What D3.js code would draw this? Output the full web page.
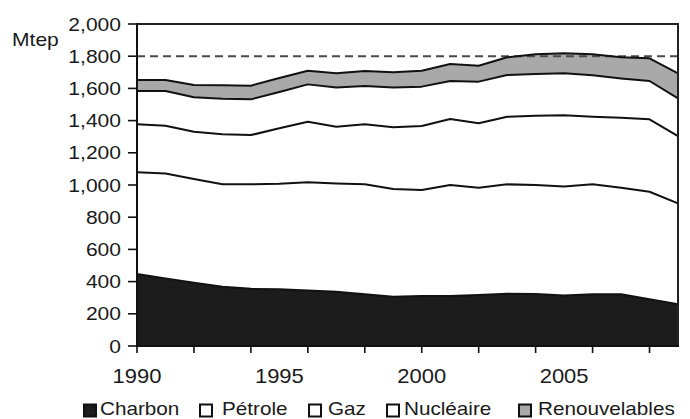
<!DOCTYPE html>
<html><head><meta charset="utf-8">
<script src="https://cdn.jsdelivr.net/npm/d3@7"></script>
<style>
html,body{margin:0;padding:0;background:#fff;}
svg{display:block;}
text{font-family:"Liberation Sans",Arial,sans-serif;fill:#1a1a1a;}
</style></head>
<body>
<svg id="chart" width="690" height="419"></svg>
<script>
const years = [1990,1991,1992,1993,1994,1995,1996,1997,1998,1999,2000,2001,2002,2003,2004,2005,2006,2007,2008,2009];
const charbon       = [447,420,393,368,355,352,345,337,321,306,311,311,317,325,323,313,321,321,290,259];
const petrole       = [632,652,644,636,649,656,672,673,683,669,658,689,666,679,677,677,683,662,668,627];
const gaz           = [298,296,294,311,306,344,376,352,373,383,397,410,400,420,430,443,420,435,450,418];
const nucleaire     = [207,216,214,221,222,226,232,243,238,247,245,236,259,259,260,261,257,244,238,234];
const renouvelables = [ 68, 68, 76, 83, 85, 87, 85, 89, 93, 95, 99,106, 99,110,122,124,131,131,141,156];
const seriesNames = ["Charbon","Pétrole","Gaz","Nucléaire","Renouvelables"];
const seriesFill  = ["#1c1c1c","#ffffff","#ffffff","#ffffff","#a9a9a9"];
const yTicks = [0,200,400,600,800,1000,1200,1400,1600,1800,2000];
const xTickYears = [1990,1992,1994,1996,1998,2000,2002,2004,2006,2008];
const xLabels = [1990,1995,2000,2005];
const referenceLine = 1800;
const unitLabel = "Mtep";

const svg = d3.select("#chart");
const L = 137, R = 678, T = 24, B = 346;
const x = d3.scaleLinear().domain([1990, 2009]).range([L, R]);
const y = d3.scaleLinear().domain([0, 2000]).range([B, T]);
const fmt = d3.format(",");

function txt(g, px, py, s, anchor, size, sx) {
  g.append("text")
    .attr("transform", `translate(${px},${py}) scale(${sx},1)`)
    .attr("text-anchor", anchor)
    .style("font-size", size + "px")
    .text(s);
}

const table = years.map((yr, i) => ({
  year: yr,
  "Charbon": charbon[i], "Pétrole": petrole[i], "Gaz": gaz[i],
  "Nucléaire": nucleaire[i], "Renouvelables": renouvelables[i]
}));
const stacked = d3.stack().keys(seriesNames)(table);

const area = d3.area().x(d => x(d.data.year)).y0(d => y(d[0])).y1(d => y(d[1]));
const line = d3.line().x(d => x(d.data.year)).y(d => y(d[1]));

svg.append("g").selectAll("path").data(stacked).join("path")
  .attr("d", area).attr("fill", (d, i) => seriesFill[i]).attr("stroke", "none");

// reference dashed line
svg.append("line")
  .attr("x1", L).attr("x2", R).attr("y1", y(referenceLine)).attr("y2", y(referenceLine))
  .attr("stroke", "#4a4a4a").attr("stroke-width", 2).attr("stroke-dasharray", "8,5");

svg.append("g").selectAll("path").data(stacked).join("path")
  .attr("d", line).attr("fill", "none").attr("stroke", "#111")
  .attr("stroke-width", 2).attr("stroke-linejoin", "round");

// frame: top and right
svg.append("path")
  .attr("d", `M${L},${T}H${R}V${B}`)
  .attr("fill", "none").attr("stroke", "#222").attr("stroke-width", 2);

// y axis
const yAxis = svg.append("g");
yAxis.append("line").attr("x1", L).attr("x2", L).attr("y1", T - 1).attr("y2", B + 1)
  .attr("stroke", "#111").attr("stroke-width", 2);
yTicks.forEach(v => {
  yAxis.append("line").attr("x1", L - 9).attr("x2", L + 1).attr("y1", y(v)).attr("y2", y(v))
    .attr("stroke", "#111").attr("stroke-width", 1.6);
  txt(yAxis, 121, y(v) + 6.5, fmt(v), "end", 18, 1.17);
});
txt(yAxis, 12, 46, unitLabel, "start", 18, 1.17);

// x axis
const xAxis = svg.append("g");
xAxis.append("line").attr("x1", L).attr("x2", R + 1).attr("y1", B).attr("y2", B)
  .attr("stroke", "#111").attr("stroke-width", 2);
xTickYears.forEach(v => {
  xAxis.append("line").attr("x1", x(v)).attr("x2", x(v)).attr("y1", B).attr("y2", B + 7)
    .attr("stroke", "#111").attr("stroke-width", 1.6);
});
xLabels.forEach(v => txt(xAxis, x(v), 383, String(v), "middle", 20, 1.1));

// legend
const legSquareX = [84, 200, 309, 387, 519];
const legTextX   = [100, 222, 328, 404, 538];
const leg = svg.append("g");
seriesNames.forEach((n, i) => {
  leg.append("rect").attr("x", legSquareX[i]).attr("y", 404.5).attr("width", 12).attr("height", 12)
    .attr("fill", seriesFill[i]).attr("stroke", "#111").attr("stroke-width", 2);
  txt(leg, legTextX[i], 415, n, "start", 18, 1.15);
});
</script>
</body></html>
